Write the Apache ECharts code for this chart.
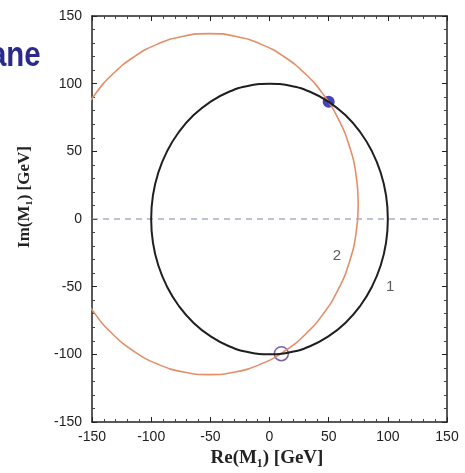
<!DOCTYPE html>
<html>
<head>
<meta charset="utf-8">
<script src="https://cdn.jsdelivr.net/npm/echarts@6/dist/echarts.min.js"></script>
<style>html,body{margin:0;padding:0;background:#fff;}#c{width:465px;height:473px;}</style>
</head>
<body>
<div id="c"></div>
<script>
// Curve 1 (black)
var curve1 = [[100,0],[98.5,17.4],[94.0,34.2],[86.6,50.0],[76.6,64.3],[64.3,76.6],[50.0,86.6],[34.2,94.0],[17.4,98.5],[0,100],
[-17.4,98.5],[-34.2,94.0],[-50.0,86.6],[-64.3,76.6],[-76.6,64.3],[-86.6,50.0],[-94.0,34.2],[-98.5,17.4],[-100,0],
[-98.5,-17.4],[-94.0,-34.2],[-86.6,-50.0],[-76.6,-64.3],[-64.3,-76.6],[-50.0,-86.6],[-34.2,-94.0],[-17.4,-98.5],[0,-100],
[17.4,-98.5],[34.2,-94.0],[50.0,-86.6],[64.3,-76.6],[76.6,-64.3],[86.6,-50.0],[94.0,-34.2],[98.5,-17.4],[100,0]];
// Curve 2 (orange)
var curve2 = [[75,11],[73.1,32.9],[67.4,54.1],[58.1,74],[45.5,92],[30,107.5],[12,120.1],[-7.9,129.4],[-29.1,135.1],[-51,137],
[-72.9,135.1],[-94.1,129.4],[-114,120.1],[-132,107.5],[-147.5,92],[-160.1,74],[-169.4,54.1],[-175.1,32.9],[-177,11],
[-175.1,-10.9],[-169.4,-32.1],[-160.1,-52],[-147.5,-70],[-132,-85.5],[-114,-98.1],[-94.1,-107.4],[-72.9,-113.1],[-51,-115],
[-29.1,-113.1],[-7.9,-107.4],[12,-98.1],[30,-85.5],[45.5,-70],[58.1,-52],[67.4,-32.1],[73.1,-10.9],[75,11]];
var zeroLine = [[-150,0],[150,0]];
var filledPoint = [[50,86.6]];
var openPoint = [[10,-99.5]];
var curveLabels = [{name:'1', value:[102,-50]},{name:'2', value:[57,-27]}];
var xTicks = [-150,150,50];
var yTicks = [-150,150,50];

var chart = echarts.init(document.getElementById('c'));
var tickFont = {color:'#222', fontSize:14, fontFamily:'Liberation Sans, sans-serif'};
function axisBase(pos, showLabel, isX){
  var t = isX ? xTicks : yTicks;
  return {
    type:'value', position:pos, min:t[0], max:t[1], interval:t[2],
    axisLine:{show:true, onZero:false, lineStyle:{color:'#222', width:1.5}},
    axisTick:{show:true, inside:true, length:5, lineStyle:{color:'#222'}},
    minorTick:{show:true, splitNumber:5, length:3, lineStyle:{color:'#444'}},
    splitLine:{show:false},
    axisLabel:Object.assign({show:showLabel, margin:isX ? 8 : 10}, tickFont)
  };
}
chart.setOption({
  animation:false,
  backgroundColor:'#fff',
  grid:{left:92, right:18, top:16, bottom:51},
  xAxis:[axisBase('bottom', true, true), axisBase('top', false, true)],
  yAxis:[axisBase('left', true, false), axisBase('right', false, false)],
  graphic:[
    {type:'text', x:-10, y:56, scaleX:0.84, style:{text:'ane', fill:'#2b2a8c', align:'left', verticalAlign:'middle', font:'bold 35px Liberation Sans, sans-serif'}},
    {type:'text', x:25, y:197, rotation:Math.PI/2, style:{text:'Im(M\u2081) [GeV]', fill:'#222', align:'center', verticalAlign:'middle', font:'bold 17px Liberation Serif, serif'}},
    {type:'text', x:267, y:458, style:{text:'Re(M\u2081) [GeV]', fill:'#222', align:'center', verticalAlign:'middle', font:'bold 19px Liberation Serif, serif'}}
  ],
  series:[
    {type:'line', data:zeroLine, symbol:'none', lineStyle:{color:'#7d88a8', width:1.2, type:[6,5]}},
    {type:'line', data:curve2, smooth:true, symbol:'none', clip:true, lineStyle:{color:'#e48e68', width:1.6}},
    {type:'line', data:curve1, smooth:true, symbol:'none', clip:true, lineStyle:{color:'#1f1f1f', width:2}},
    {type:'scatter', data:filledPoint, symbol:'circle', symbolSize:12, itemStyle:{color:'#1414a8'}},
    {type:'scatter', data:openPoint, symbol:'circle', symbolSize:14, itemStyle:{color:'rgba(255,255,255,0)', borderColor:'#5a3a9a', borderWidth:1.5}},
    {type:'scatter', data:curveLabels, symbolSize:0, label:{show:true, position:'inside', formatter:'{b}', color:'#333', fontSize:15, fontFamily:'Liberation Sans, sans-serif'}}
  ]
});
</script>
</body>
</html>
